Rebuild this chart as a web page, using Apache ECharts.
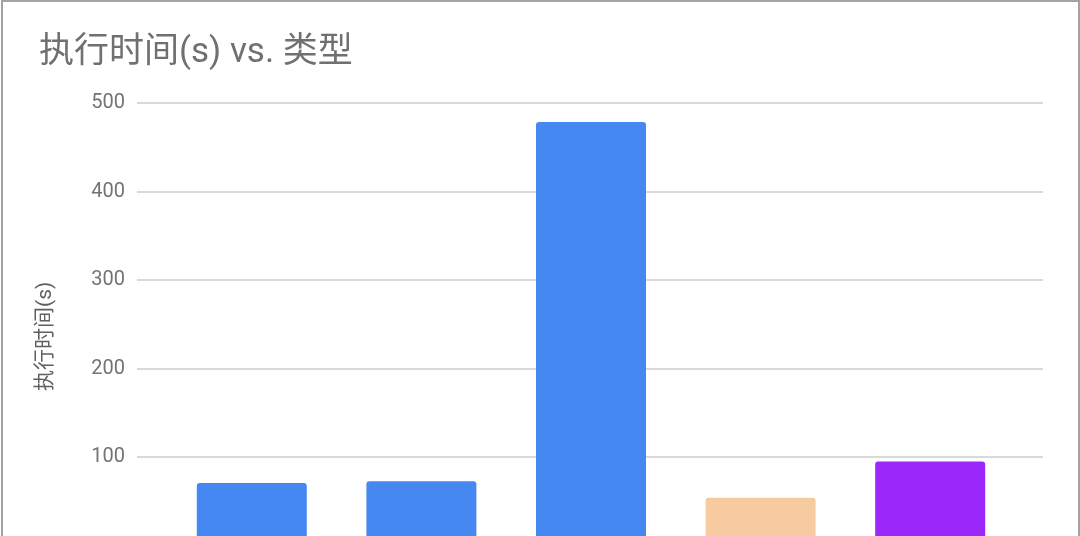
<!DOCTYPE html>
<html>
<head>
<meta charset="utf-8">
<script src="https://cdn.jsdelivr.net/npm/echarts@6/dist/echarts.min.js"></script>
<style>
  html, body { margin: 0; padding: 0; background: #fff; overflow: hidden; }
  #chart { position: absolute; left: 0; top: 0; width: 1080px; height: 536px; }
  #frame { position: absolute; left: 1px; top: 0; width: 1075px; height: 560px;
           border: 2px solid #a3a3a3; pointer-events: none; }
</style>
</head>
<body>
<div id="chart"></div>
<div id="frame"></div>
<script>
// categories are below the visible edge in the reference
var categories = ['类型A', '类型B', '类型C', '类型D', '类型E'];
var execTimes = [70.5, 72.5, 478.5, 54, 95];
var barColors = ['#4688f1', '#4688f1', '#4688f1', '#f6cba0', '#9c27fa'];
var yTicks = [0, 100, 200, 300, 400, 500];

var chart = echarts.init(document.getElementById('chart'));
var font = 'Roboto, "Noto Sans CJK SC", sans-serif';

var option = {
  animation: false,
  title: {
    text: '执行时间(s) vs. 类型',
    left: 34,
    top: 31,
    textStyle: { fontFamily: font, fontSize: 35, fontWeight: 'normal', color: '#707070' }
  },
  grid: [
    // grid for the gridlines / y labels
    { left: 137, right: 37, top: 103, height: 442.5, outerBoundsMode: 'none' },
    // grid for the bars
    { left: 167, right: 65, top: 103, height: 442.5, outerBoundsMode: 'none' }
  ],
  xAxis: [
    { type: 'category', gridIndex: 0, data: categories, show: false },
    { type: 'category', gridIndex: 1, data: categories,
      axisLine: { show: false }, axisTick: { show: false },
      axisLabel: { color: '#757575', fontFamily: font, fontSize: 18 } }
  ],
  yAxis: [
    {
      type: 'value', gridIndex: 0,
      min: yTicks[0], max: yTicks[yTicks.length - 1], interval: 100,
      name: '执行时间(s)',
      nameLocation: 'middle',
      nameRotate: 90,
      nameGap: 81,
      nameTextStyle: { fontFamily: font, fontSize: 21, color: '#5f5f5f', padding: [0, 24, 0, 0] },
      axisLine: { show: false },
      axisTick: { show: false },
      axisLabel: { margin: 12, color: '#737373', fontFamily: font, fontSize: 20 },
      splitLine: { lineStyle: { color: '#cccccc', width: 1.5 } }
    },
    {
      type: 'value', gridIndex: 1,
      min: yTicks[0], max: yTicks[yTicks.length - 1], interval: 100,
      show: false, splitLine: { show: false }
    }
  ],
  series: [
    {
      type: 'bar',
      xAxisIndex: 1,
      yAxisIndex: 1,
      barWidth: 110,
      data: execTimes.map(function (v, i) {
        return { value: v, itemStyle: { color: barColors[i] } };
      }),
      itemStyle: { borderRadius: [3, 3, 0, 0] }
    }
  ]
};

chart.setOption(option);
</script>
</body>
</html>
